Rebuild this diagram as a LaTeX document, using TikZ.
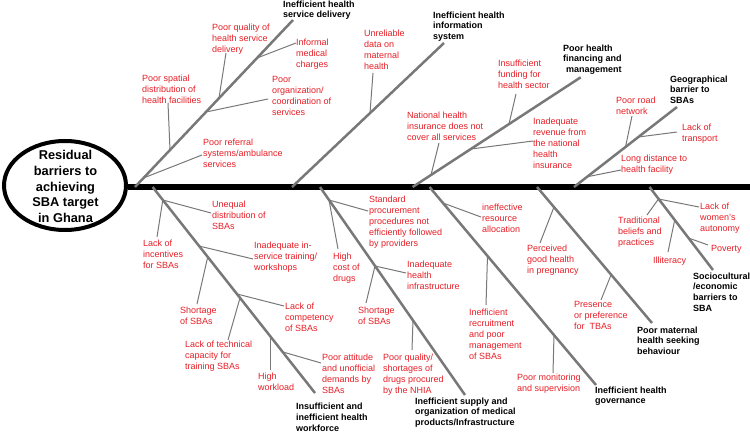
\documentclass[tikz,border=0pt]{standalone}
\usepackage{fontspec}
\setmainfont{Liberation Sans}
\usetikzlibrary{shapes.geometric}
\definecolor{fbred}{RGB}{230,30,38}
\definecolor{bonegray}{RGB}{120,120,120}
\begin{document}
\begin{tikzpicture}[x=1pt,y=-1pt,
  bone/.style={draw=bonegray,line width=2.5pt},
  twig/.style={draw=bonegray,line width=1pt},
  spineline/.style={draw=black,line width=6pt},
  cause/.style={font=\fontsize{9}{11}\selectfont,text=fbred,align=left,anchor=north west,inner sep=0pt},
  cat/.style={font=\bfseries\fontsize{9}{10.7}\selectfont,text=black,align=left,anchor=north west,inner sep=0pt}]
\useasboundingbox (0,0) rectangle (750,433);

% head
\node[ellipse,draw=black,line width=4pt,minimum width=122pt,minimum height=89pt,inner sep=0pt] (goal) at (65,185.5) {};
\node[font=\bfseries\fontsize{12.8}{15.7}\selectfont,align=center,inner sep=0pt] (goaltext) at (65.5,186.5) {Residual\\barriers to\\achieving\\SBA target\\in Ghana};
\coordinate (tail) at (750,187);
\draw[spineline] (goal.east |- tail) -- (tail);

% ---------- bone 1
\coordinate (S1) at (135,187); \coordinate (E1) at (293,20);
\draw[bone] (S1) -- (E1);
\node[cat] (L1) at (283,0.5) {Inefficient health\\service delivery};
\node[cause] (c1) at (212,23.5) {Poor quality of\\health service\\delivery};
\coordinate (c1e) at (226,53); \coordinate (j1) at (219,98);
\node[cause] (c2) at (296,38.5) {Informal\\medical\\charges};
\coordinate (c2e) at (296,43); \coordinate (j2) at (257,58);
\node[cause] (c3) at (272,76.5) {Poor\\organization/\\coordination of\\services};
\coordinate (c3e) at (268,99); \coordinate (j3) at (206,112);
\node[cause] (c4) at (142,74.5) {Poor spatial\\distribution of\\health facilities};
\coordinate (c4e) at (168,103); \coordinate (j4) at (170,150);
\node[cause] (c5) at (203,138.5) {Poor referral\\systems/ambulance\\services};
\coordinate (c5e) at (202,155); \coordinate (j5) at (143.5,178);
\draw[twig] (c1e) -- (j1); \draw[twig] (c2e) -- (j2); \draw[twig] (c3e) -- (j3);
\draw[twig] (c4e) -- (j4); \draw[twig] (c5e) -- (j5);

% ---------- bone 2
\coordinate (S2) at (292,187); \coordinate (E2) at (444,43);
\draw[bone] (S2) -- (E2);
\node[cat] (L2) at (433,11.5) {Inefficient health\\information\\system};
\node[cause] (c6) at (364,29.5) {Unreliable\\data on\\maternal\\health};
\coordinate (c6e) at (373,73); \coordinate (j6) at (370,113);
\draw[twig] (c6e) -- (j6);

% ---------- bone 3
\coordinate (S3) at (412.6,187); \coordinate (E3) at (580.7,77.3);
\draw[bone] (S3) -- (E3);
\node[cat] (L3) at (563,44.5) {Poor health\\financing and\\\hspace*{3pt}management};
\node[cause] (c7) at (498,59.5) {Insufficient\\funding for\\health sector};
\coordinate (c7e) at (516,94); \coordinate (j7) at (509,124);
\node[cause] (c8) at (407,111.5) {National health\\insurance does not\\cover all services};
\coordinate (c8e) at (439,143); \coordinate (j8) at (431,175);
\node[cause] (c9) at (533,117.5) {Inadequate\\revenue from\\the national\\health\\insurance};
\coordinate (c9e) at (533,141); \coordinate (j9) at (471,149);
\draw[twig] (c7e) -- (j7); \draw[twig] (c8e) -- (j8); \draw[twig] (c9e) -- (j9);

% ---------- bone 4
\coordinate (S4) at (574,187); \coordinate (E4) at (677,107);
\draw[bone] (S4) -- (E4);
\node[cat] (L4) at (670,75.5) {Geographical\\barrier to\\SBAs};
\node[cause] (c10) at (616,96.5) {Poor road\\network};
\coordinate (c10e) at (632,116); \coordinate (j10) at (625.5,147);
\node[cause] (c11) at (682,123.5) {Lack of\\transport};
\coordinate (c11e) at (677,132); \coordinate (j11) at (638.5,137);
\node[cause] (c12) at (621,154.5) {Long distance to\\health facility};
\coordinate (c12e) at (621,170); \coordinate (j12) at (587.5,176.7);
\draw[twig] (c10e) -- (j10); \draw[twig] (c11e) -- (j11); \draw[twig] (c12e) -- (j12);

% ---------- bone 5
\coordinate (S5) at (152.6,187); \coordinate (E5) at (315,393);
\draw[bone] (S5) -- (E5);
\node[cat] (L5) at (296,403) {Insufficient and\\inefficient health\\workforce};
\coordinate (j13) at (162.8,200);
\node[cause] (c13) at (212,200.5) {Unequal\\distribution of\\SBAs};
\coordinate (c13e) at (211,213);
\node[cause] (c14) at (143,239.5) {Lack of\\incentives\\for SBAs};
\coordinate (c14e) at (157,237);
\node[cause] (c15) at (254,241.5) {Inadequate in-\\service training/\\workshops};
\coordinate (c15e) at (253,259); \coordinate (j15) at (199,246);
\node[cause] (c16) at (180,306.5) {Shortage\\of SBAs};
\coordinate (c16e) at (197,304); \coordinate (j16) at (207.7,257);
\node[cause] (c17) at (285,302.5) {Lack of\\competency\\of SBAs};
\coordinate (c17e) at (284,306); \coordinate (j17) at (237,294);
\node[cause] (c18) at (185,340.5) {Lack of technical\\capacity for\\training SBAs};
\coordinate (c18e) at (228,340); \coordinate (j18) at (240,298);
\node[cause] (c19) at (258,372.5) {High\\workload};
\coordinate (c19e) at (270,370); \coordinate (j19) at (270,336);
\node[cause] (c20) at (322,353.5) {Poor attitude\\and unofficial\\demands by\\SBAs};
\coordinate (c20e) at (321,363); \coordinate (j20) at (283,352);
\draw[twig] (c13e) -- (j13); \draw[twig] (c14e) -- (j13); \draw[twig] (c15e) -- (j15);
\draw[twig] (c16e) -- (j16); \draw[twig] (c17e) -- (j17); \draw[twig] (c18e) -- (j18);
\draw[twig] (c19e) -- (j19); \draw[twig] (c20e) -- (j20);

% ---------- bone 6
\coordinate (S6) at (320,187); \coordinate (E6) at (465,395);
\draw[bone] (S6) -- (E6);
\node[cat] (L6) at (415,397.5) {Inefficient supply and\\organization of medical\\products/Infrastructure};
\coordinate (j21) at (329,200);
\node[cause] (c21) at (369,195.5) {Standard\\procurement\\procedures not\\efficiently followed\\by providers};
\coordinate (c21e) at (368,211);
\node[cause] (c22) at (333,252.5) {High\\cost of\\drugs};
\coordinate (c22e) at (338,249);
\coordinate (j23) at (375,266);
\node[cause] (c23) at (407,260.5) {Inadequate\\health\\infrastructure};
\coordinate (c23e) at (406,273);
\node[cause] (c24) at (358,306.5) {Shortage\\of SBAs};
\coordinate (c24e) at (366,303);
\node[cause] (c25) at (383,353.5) {Poor quality/\\shortages of\\drugs procured\\by the NHIA};
\coordinate (c25e) at (412,350); \coordinate (j25) at (413,320);
\draw[twig] (c21e) -- (j21); \draw[twig] (c22e) -- (j21); \draw[twig] (c23e) -- (j23);
\draw[twig] (c24e) -- (j23); \draw[twig] (c25e) -- (j25);

% ---------- bone 7
\coordinate (S7) at (429.5,187); \coordinate (E7) at (596,385);
\draw[bone] (S7) -- (E7);
\node[cat] (L7) at (595,386.5) {Inefficient health\\governance};
\node[cause] (c26) at (482,203.5) {ineffective\\resource\\allocation};
\coordinate (c26e) at (481,217); \coordinate (j26) at (443,203);
\node[cause] (c27) at (469,308.5) {Inefficient\\recruitment\\and poor\\management\\of SBAs};
\coordinate (c27e) at (486,305); \coordinate (j27) at (487.5,256);
\node[cause] (c28) at (517,373.5) {Poor monitoring\\and supervision};
\coordinate (c28e) at (553,373); \coordinate (j28) at (554,335);
\draw[twig] (c26e) -- (j26); \draw[twig] (c27e) -- (j27); \draw[twig] (c28e) -- (j28);

% ---------- bone 8
\coordinate (S8) at (537,187); \coordinate (E8) at (652,323);
\draw[bone] (S8) -- (E8);
\node[cat] (L8) at (637,326.5) {Poor maternal\\health seeking\\behaviour};
\node[cause] (c29) at (527,244.5) {Perceived\\good health\\in pregnancy};
\coordinate (c29e) at (540,243); \coordinate (j29) at (554,207);
\node[cause] (c30) at (574,301.5) {Presence\\or preference\\for\ \ TBAs};
\coordinate (c30e) at (601,300); \coordinate (j30) at (611,275);
\draw[twig] (c29e) -- (j29); \draw[twig] (c30e) -- (j30);

% ---------- bone 9
\coordinate (S9) at (649.5,187); \coordinate (E9) at (713,270);
\draw[bone] (S9) -- (E9);
\node[cat] (L9) at (693,272.5) {Sociocultural\\/economic\\barriers to\\SBA};
\coordinate (j31) at (658.5,199);
\node[cause] (c31) at (618,216.5) {Traditional\\beliefs and\\practices};
\coordinate (c31e) at (647,215);
\node[cause] (c32) at (700,202.5) {Lack of\\women’s\\autonomy};
\coordinate (c32e) at (699,207);
\node[cause] (c33) at (653,257) {Illiteracy};
\coordinate (c33e) at (668,252); \coordinate (j33) at (674.7,220);
\node[cause] (c34) at (711,245) {Poverty};
\coordinate (c34e) at (708,245); \coordinate (j34) at (688.5,238);
\draw[twig] (c31e) -- (j31); \draw[twig] (c32e) -- (j31); \draw[twig] (c33e) -- (j33);
\draw[twig] (c34e) -- (j34);
\end{tikzpicture}
\end{document}
